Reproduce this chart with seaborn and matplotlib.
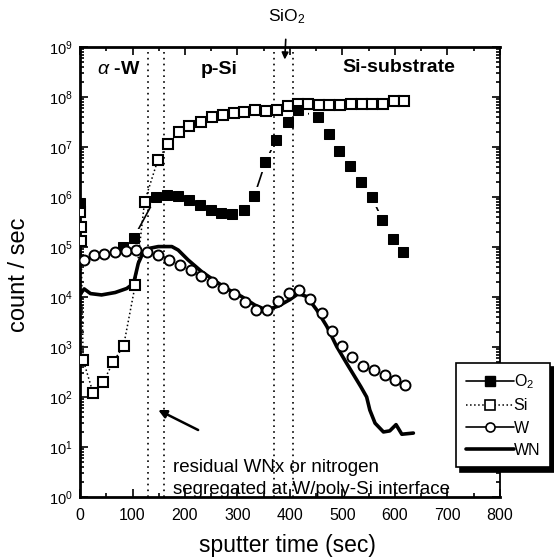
import matplotlib
matplotlib.use("Agg")
import matplotlib.pyplot as plt
import seaborn as sns
import pandas as pd
from matplotlib.lines import Line2D
from matplotlib.ticker import LogLocator, MultipleLocator, NullFormatter

# ---------------- data ----------------
si_t = [0, 1, 2, 6, 25, 44, 63, 83, 105, 123, 148, 168, 189, 208, 230, 251, 272, 293,
        313, 334, 355, 376, 396, 416, 435, 455, 475, 495, 516, 537, 557, 578, 598, 618]
si_v = [5.0e5, 2.5e5, 1.3e5, 550, 120, 195, 500, 1050, 1.7e4, 8.1e5, 5.4e6, 1.15e7,
        1.95e7, 2.6e7, 3.2e7, 3.9e7, 4.3e7, 4.7e7, 5.1e7, 5.6e7, 5.2e7, 5.6e7, 6.5e7,
        7.4e7, 7.4e7, 6.8e7, 6.8e7, 6.9e7, 7.1e7, 7.1e7, 7.1e7, 7.4e7, 8.5e7, 8.5e7]

o2_t = [0, 82, 102, 145, 166, 187, 208, 229, 249, 269, 290, 312, 332, 353, 373, 397,
        416, 454, 474, 494, 514, 535, 556, 576, 596, 616]
o2_v = [7.6e5, 1.0e5, 1.5e5, 1.02e6, 1.1e6, 1.07e6, 8.7e5, 6.8e5, 5.5e5, 4.7e5, 4.5e5,
        5.5e5, 1.05e6, 4.9e6, 1.38e7, 3.2e7, 5.5e7, 3.9e7, 1.8e7, 8.5e6, 4.2e6, 2.0e6,
        9.8e5, 3.5e5, 1.45e5, 7.8e4]
# the first O2 reading stands alone (no connecting line drawn to it)
o2_seg = [0] + [1] * 25

w_t = [8, 27, 46, 67, 87, 107, 127, 149, 170, 190, 211, 230, 251, 273, 294, 314, 335,
       357, 378, 399, 418, 439, 460, 480, 500, 519, 540, 560, 581, 600, 620]
w_v = [5.6e4, 6.8e4, 7.4e4, 8.1e4, 8.5e4, 8.9e4, 7.8e4, 6.8e4, 5.5e4, 4.3e4, 3.4e4,
       2.6e4, 2.0e4, 1.5e4, 1.15e4, 7.8e3, 5.6e3, 5.5e3, 8.5e3, 1.23e4, 1.4e4, 9.3e3,
       4.7e3, 2.1e3, 1.05e3, 630, 410, 340, 270, 220, 175]

wn_t = [2, 8, 20, 41, 67, 89, 102, 111, 121, 130, 149, 175, 187, 206, 232, 257, 283,
        308, 333, 355, 378, 400, 416, 432, 451, 470, 489, 508, 521, 535, 546, 552, 562,
        578, 590, 602, 613, 635]
wn_v = [1.2e4, 1.45e4, 1.17e4, 1.1e4, 1.23e4, 1.48e4, 1.86e4, 4.7e4, 8.1e4, 9.3e4,
        1.02e5, 1.02e5, 8.7e4, 5.5e4, 3.2e4, 2.1e4, 1.4e4, 1.02e4, 6.9e3, 5.5e3, 6.6e3,
        8.9e3, 1.17e4, 1.02e4, 5.5e3, 2.6e3, 1.02e3, 470, 280, 160, 100, 55, 30, 20,
        21, 28, 18, 19]

boundaries = [130, 160, 370, 405]
x_ticks = [0, 100, 200, 300, 400, 500, 600, 700, 800]

# ---------------- figure ----------------
sns.set_style("ticks", {"axes.edgecolor": "black", "text.color": "black",
                        "axes.labelcolor": "black", "xtick.color": "black",
                        "ytick.color": "black"})
plt.rcParams['font.family'] = ['Liberation Sans', 'DejaVu Sans']
plt.rcParams['mathtext.fontset'] = 'custom'
plt.rcParams['mathtext.rm'] = 'Liberation Sans'
plt.rcParams['mathtext.it'] = 'Liberation Sans:italic'
plt.rcParams['mathtext.bf'] = 'Liberation Sans:bold'

fig = plt.figure(figsize=(5.54, 5.57), dpi=100)
ax = fig.add_axes([80 / 554, 1 - 497 / 557, 420 / 554, 450 / 557])

df_wn = pd.DataFrame({"t": wn_t, "v": wn_v})
df_si = pd.DataFrame({"t": si_t, "v": si_v})
df_o2 = pd.DataFrame({"t": o2_t, "v": o2_v, "seg": o2_seg})
df_w = pd.DataFrame({"t": w_t, "v": w_v})

# O2: connecting line broken around the markers (white masks underneath)
sns.lineplot(data=df_o2, x="t", y="v", units="seg", estimator=None, ax=ax,
             color="black", lw=1.2, zorder=1)
sns.lineplot(data=df_o2, x="t", y="v", ax=ax, color="white", lw=0, marker="s",
             markersize=13, markerfacecolor="white", markeredgecolor="white", zorder=1.5)

sns.lineplot(data=df_wn, x="t", y="v", ax=ax, color="black", lw=2.6, zorder=3)
sns.lineplot(data=df_si, x="t", y="v", ax=ax, color="black", lw=1.1, linestyle=":",
             marker="s", markersize=7.2, markerfacecolor="white", markeredgecolor="black",
             markeredgewidth=1.5, zorder=4)
sns.lineplot(data=df_o2, x="t", y="v", ax=ax, color="black", lw=0, marker="s",
             markersize=7.5, markerfacecolor="black", markeredgecolor="black", zorder=4)
sns.lineplot(data=df_w, x="t", y="v", ax=ax, color="black", lw=0, marker="o",
             markersize=7.2, markerfacecolor="white", markeredgecolor="black",
             markeredgewidth=1.4, zorder=5)

for b in boundaries:
    ax.axvline(b, color="black", lw=1.2, linestyle=(0, (1, 2.5)), zorder=2)

ax.set_yscale("log")
ax.set_xlim(0, 800)
ax.set_ylim(1, 1e9)
ax.set_xticks(x_ticks)
ax.xaxis.set_minor_locator(MultipleLocator(50))
ax.yaxis.set_major_locator(LogLocator(base=10, numticks=12))
ax.yaxis.set_minor_locator(LogLocator(base=10, subs=range(2, 10), numticks=12))
ax.yaxis.set_minor_formatter(NullFormatter())
ax.tick_params(which="both", direction="in", top=True, right=True, width=1.2, color="black")
ax.tick_params(which="major", length=6, labelcolor="black")
ax.tick_params(axis="x", which="major", labelsize=11.5, pad=8)
ax.tick_params(axis="y", which="major", labelsize=10.5, pad=5)
ax.tick_params(which="minor", length=3)
for s in ["left", "bottom", "top"]:
    ax.spines[s].set_linewidth(2.0)
ax.spines["right"].set_linewidth(1.3)

ax.set_xlabel("sputter time (sec)", fontsize=16.5, color="black")
ax.xaxis.set_label_coords(0.495, -0.082)
ax.set_ylabel("count / sec", fontsize=17, color="black")
ax.yaxis.set_label_coords(-0.118, 0.495)

# region labels
ax.text(74, 10 ** 8.55, r"$\alpha$ -W", fontsize=14, fontweight="bold", ha="center", va="center")
ax.text(265, 10 ** 8.55, "p-Si", fontsize=14, fontweight="bold", ha="center", va="center")
ax.text(608, 10 ** 8.6, "Si-substrate", fontsize=14, fontweight="bold", ha="center", va="center")

# SiO2 arrow
ax.annotate("SiO$_2$", xy=(390, 10 ** 8.75), xytext=(394, 10 ** 9.6),
            fontsize=12.5, ha="center", va="center", annotation_clip=False,
            arrowprops=dict(arrowstyle="-|>", color="black", lw=1.2,
                            shrinkA=7, shrinkB=0, mutation_scale=10))

# residual annotation
ax.annotate("", xy=(149, 10 ** 1.74), xytext=(225, 10 ** 1.34),
            arrowprops=dict(arrowstyle="-|>", color="black", lw=1.8,
                            shrinkA=0, shrinkB=0, mutation_scale=12))
ax.text(177, 10 ** 0.6, "residual WNx or nitrogen", fontsize=13.5, ha="left", va="center")
ax.text(177, 10 ** 0.16, "segregated at W/poly-Si interface", fontsize=13.5, ha="left", va="center")

# legend
handles = [
    Line2D([], [], color="black", lw=1.2, marker="s", markersize=7,
           markerfacecolor="black"),
    Line2D([], [], color="black", lw=1.1, linestyle=":", marker="s", markersize=6.5,
           markerfacecolor="white", markeredgewidth=1.2),
    Line2D([], [], color="black", lw=1.2, marker="o", markersize=6.5,
           markerfacecolor="white", markeredgewidth=1.2),
    Line2D([], [], color="black", lw=2.6),
]
labels = ["O$_2$", "Si", "W", "WN"]
leg = ax.legend(handles, labels, loc="upper left", bbox_to_anchor=(456 / 554, 1 - 363 / 557),
                bbox_transform=fig.transFigure, fontsize=11.5, frameon=True, fancybox=False,
                framealpha=1, edgecolor="black", handlelength=3.0, handletextpad=0.0,
                labelspacing=0.45, borderpad=0.6, borderaxespad=0, numpoints=1,
                shadow={"color": "black", "ox": 3, "oy": -3, "alpha": 1})
leg.get_frame().set_linewidth(1.2)
leg.set_zorder(10)
for txt in leg.get_texts():
    txt.set_color("black")

fig.savefig("out.png", dpi=100)
